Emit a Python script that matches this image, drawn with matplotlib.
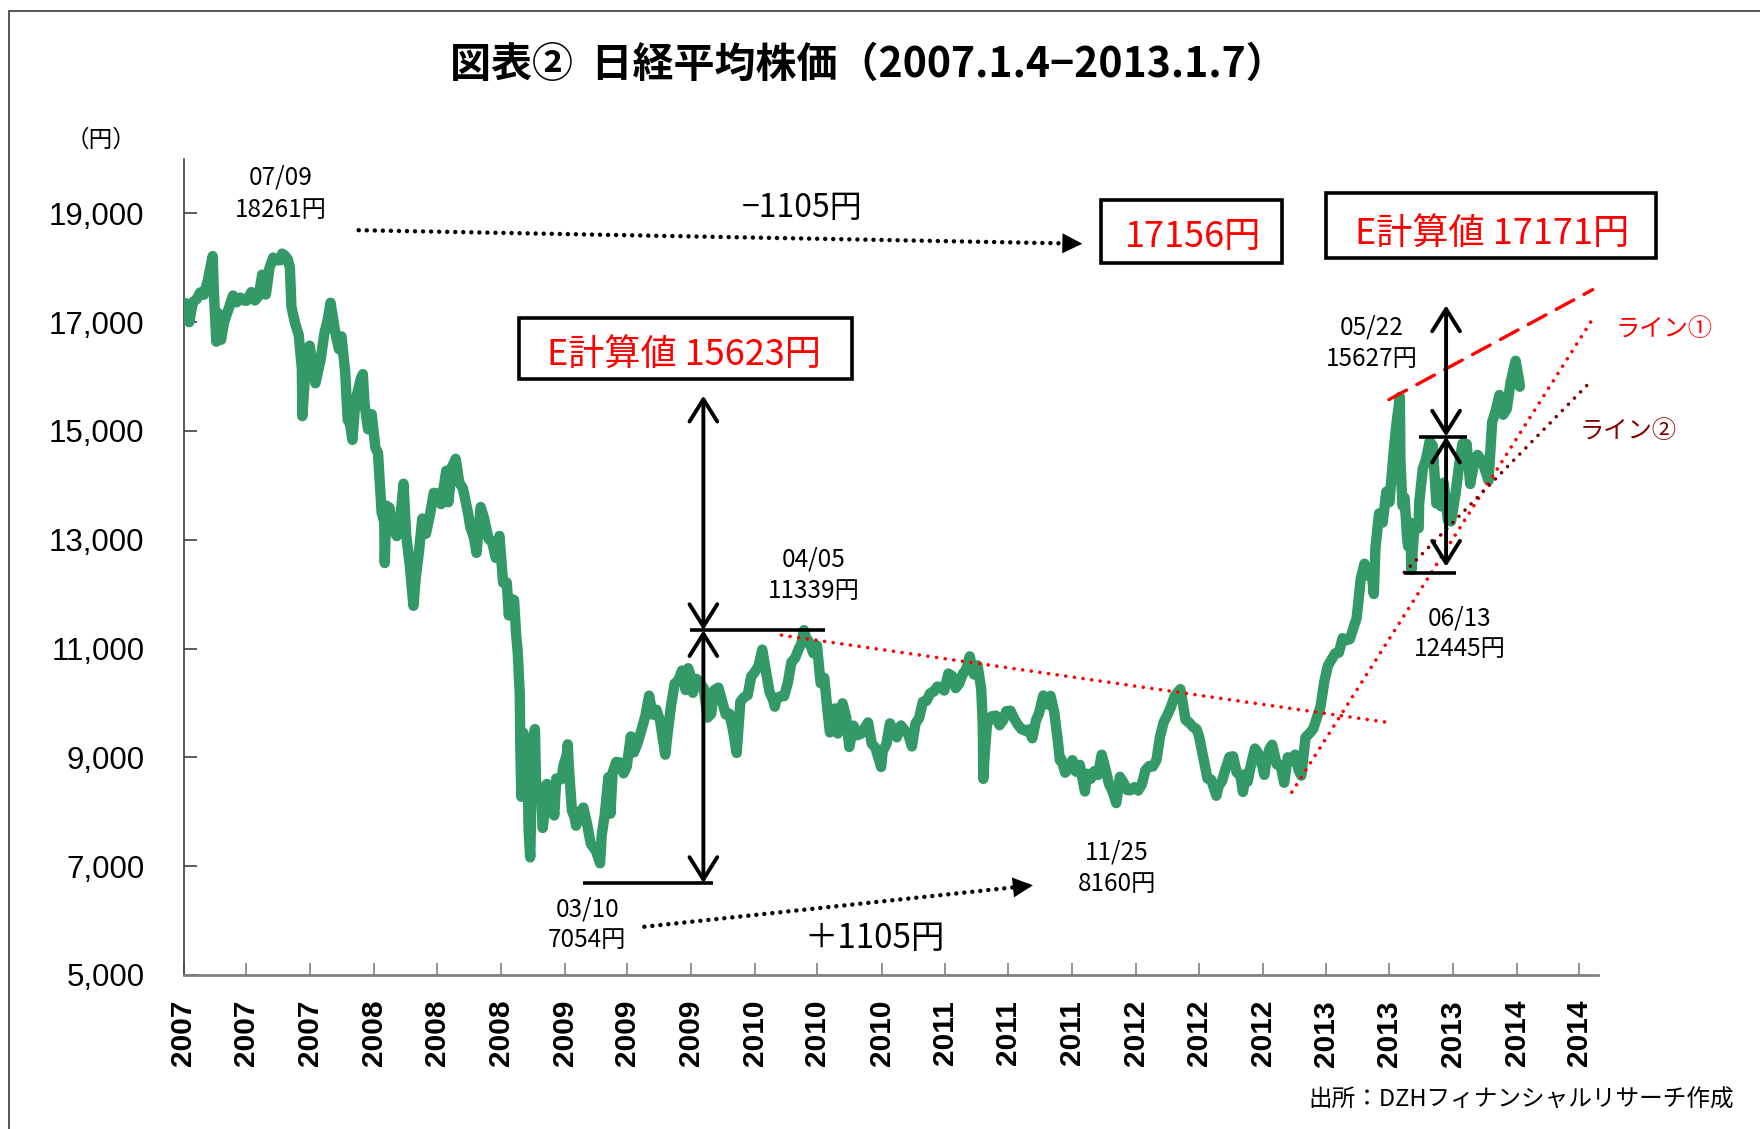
import matplotlib
matplotlib.use("Agg")
import matplotlib.pyplot as plt
import matplotlib.dates as mdates
from matplotlib.patches import Rectangle
import pandas as pd

plt.rcParams['font.family'] = ['Noto Sans CJK JP', 'DejaVu Sans']

# --- Nikkei 225 closes (MM-DD, yen) ---
days_2007 = ["01-04", "01-12", "01-19", "01-26",
             "02-02", "02-09", "02-16", "02-26", "02-28",
             "03-05", "03-09", "03-14", "03-20", "03-30",
             "04-06", "04-13", "04-20", "04-27",
             "05-02", "05-11", "05-18", "05-25",
             "06-01", "06-08", "06-15", "06-22", "06-29",
             "07-06", "07-09", "07-13", "07-20", "07-24", "07-27",
             "08-03", "08-10", "08-16", "08-17", "08-20", "08-24", "08-31",
             "09-07", "09-11", "09-21", "09-28",
             "10-05", "10-10", "10-19", "10-26", "10-31",
             "11-07", "11-12", "11-16", "11-21", "11-26", "11-30",
             "12-07", "12-11", "12-14", "12-21", "12-28"]
close_2007 = [17353, 17000, 17370, 17420,
              17547, 17504, 17742, 18215, 17604,
              16642, 17164, 16676, 17009, 17287,
              17490, 17364, 17452, 17400,
              17394, 17553, 17399, 17480,
              17875, 17509, 18001, 18188, 18138,
              18140, 18261, 18238, 18157, 18002, 17283,
              16979, 16765, 16149, 15273, 15733, 16249, 16569,
              16122, 15877, 16313, 16786,
              17065, 17358, 16814, 16505, 16738,
              16096, 15197, 15155, 14837, 15460, 15680,
              15956, 16044, 15514, 15031, 15308]

days_2008 = ["01-04", "01-09", "01-16", "01-21", "01-22", "01-25", "01-31",
             "02-06", "02-14", "02-20", "02-27",
             "03-03", "03-10", "03-17", "03-21", "03-28",
             "04-03", "04-10", "04-18", "04-25",
             "05-02", "05-09", "05-19", "05-23", "05-30",
             "06-06", "06-13", "06-20", "06-30",
             "07-04", "07-11", "07-16", "07-24", "07-31",
             "08-08", "08-15", "08-22", "08-29",
             "09-05", "09-12", "09-16", "09-19", "09-26", "09-30",
             "10-03", "10-07", "10-08", "10-10", "10-14", "10-16",
             "10-20", "10-22", "10-24", "10-27", "10-28", "10-30",
             "11-05", "11-07", "11-13", "11-17", "11-20", "11-26", "11-28",
             "12-03", "12-08", "12-12", "12-16", "12-19", "12-26", "12-30"]
close_2008 = [14691, 14600, 13504, 13325, 12573, 13629, 13592,
              13207, 13068, 13310, 14031,
              13093, 12532, 11787, 12260, 12820,
              13390, 13111, 13476, 13863,
              13849, 13656, 14269, 13690, 14339,
              14489, 14051, 13943, 13481,
              13237, 13039, 12760, 13603, 13376,
              13021, 12956, 12666, 13072,
              12212, 12214, 11609, 11920, 11893, 11259,
              10938, 10155, 9203, 8276, 9447, 8458,
              9005, 8674, 7649, 7162, 7621, 9029,
              9521, 8583, 8238, 8273, 7703, 8213, 8512,
              7997, 8329, 7932, 8612, 8588, 8600, 8860]

days_2009 = ["01-05", "01-07", "01-09", "01-15", "01-20", "01-23", "01-30",
             "02-06", "02-13", "02-20", "02-23",
             "03-02", "03-06", "03-10", "03-13", "03-19", "03-26", "03-30",
             "04-03", "04-10", "04-17", "04-24", "04-30",
             "05-08", "05-14", "05-21", "05-29",
             "06-05", "06-12", "06-19", "06-26",
             "07-03", "07-13", "07-17", "07-24", "07-31",
             "08-07", "08-14", "08-21", "08-26", "08-31",
             "09-04", "09-11", "09-18", "09-25",
             "10-02", "10-09", "10-15", "10-23", "10-30",
             "11-06", "11-13", "11-20", "11-27",
             "12-04", "12-11", "12-18", "12-25", "12-30"]
close_2009 = [9043, 9240, 8836, 8023, 7901, 7745, 7994,
              8077, 7779, 7416, 7376,
              7280, 7173, 7054, 7569, 7946, 8636, 7967,
              8719, 8916, 8907, 8707, 8828,
              9386, 9093, 9264, 9523,
              9768, 10135, 9786, 9877,
              9680, 9050, 9396, 9944, 10357,
              10412, 10597, 10238, 10639, 10492,
              10187, 10444, 10370, 10265,
              9731, 9799, 10238, 10282, 10034,
              9789, 9804, 9497, 9081,
              10022, 10107, 10142, 10494, 10546]

days_2010 = ["01-08", "01-15", "01-22", "01-29",
             "02-05", "02-08", "02-12", "02-19", "02-26",
             "03-05", "03-12", "03-19", "03-26", "03-31",
             "04-05", "04-09", "04-16", "04-23", "04-30",
             "05-07", "05-14", "05-21", "05-25", "05-28",
             "06-04", "06-09", "06-18", "06-25",
             "07-01", "07-09", "07-16", "07-23", "07-30",
             "08-06", "08-13", "08-20", "08-31",
             "09-03", "09-10", "09-17", "09-24", "09-30",
             "10-08", "10-15", "10-22", "10-29",
             "11-05", "11-12", "11-19", "11-26",
             "12-03", "12-10", "12-17", "12-24", "12-30"]
close_2010 = [10681, 10982, 10590, 10198,
              10057, 9932, 10092, 10123, 10126,
              10368, 10751, 10824, 10996, 11089,
              11339, 11204, 11102, 10914, 11057,
              10364, 10462, 9784, 9459, 9768,
              9901, 9439, 9995, 9737,
              9191, 9585, 9408, 9431, 9537,
              9642, 9253, 9179, 8824,
              9114, 9239, 9626, 9471, 9369,
              9588, 9500, 9426, 9202,
              9625, 9724, 10022, 10039,
              10178, 10211, 10303, 10279, 10229]

days_2011 = ["01-07", "01-14", "01-21", "01-28",
             "02-04", "02-10", "02-17", "02-25",
             "03-04", "03-11", "03-14", "03-15", "03-17", "03-22", "03-31",
             "04-08", "04-15", "04-22", "04-28",
             "05-06", "05-13", "05-20", "05-27",
             "06-03", "06-10", "06-17", "06-24", "06-30",
             "07-08", "07-15", "07-22", "07-29",
             "08-05", "08-09", "08-12", "08-19", "08-26",
             "09-02", "09-09", "09-16", "09-26", "09-30",
             "10-07", "10-14", "10-21", "10-28",
             "11-04", "11-11", "11-18", "11-25",
             "12-02", "12-09", "12-16", "12-22", "12-30"]
close_2011 = [10541, 10499, 10274, 10360,
              10543, 10605, 10857, 10526,
              10693, 10254, 9620, 8605, 8962, 9608, 9755,
              9768, 9591, 9682, 9849,
              9859, 9716, 9607, 9521,
              9492, 9514, 9351, 9678, 9816,
              10137, 9974, 10132, 9833,
              9299, 8944, 8963, 8719, 8797,
              8950, 8737, 8864, 8374, 8700,
              8605, 8748, 8678, 9050,
              8801, 8514, 8374, 8160,
              8643, 8536, 8401, 8395, 8455]

days_2012 = ["01-06", "01-13", "01-20", "01-27",
             "02-03", "02-10", "02-17", "02-24",
             "03-02", "03-09", "03-16", "03-27", "03-30",
             "04-06", "04-13", "04-20", "04-27",
             "05-02", "05-11", "05-18", "05-25",
             "06-04", "06-08", "06-15", "06-22", "06-29",
             "07-06", "07-13", "07-20", "07-25", "07-31",
             "08-03", "08-10", "08-17", "08-24", "08-31",
             "09-04", "09-07", "09-14", "09-19", "09-28",
             "10-05", "10-12", "10-19", "10-26",
             "11-02", "11-09", "11-14", "11-22", "11-30",
             "12-07", "12-14", "12-21", "12-28"]
close_2012 = [8390, 8500, 8766, 8841,
              8831, 8947, 9384, 9647,
              9777, 9929, 10129, 10255, 10083,
              9688, 9638, 9561, 9520,
              9380, 8953, 8611, 8593,
              8295, 8459, 8569, 8798, 9007,
              9020, 8724, 8670, 8365, 8695,
              8555, 8891, 9163, 9070, 8839,
              8679, 8871, 9159, 9232, 8870,
              8863, 8534, 9002, 8933,
              9051, 8757, 8665, 9366, 9446,
              9527, 9737, 9940, 10395]

days_2013 = ["01-04", "01-11", "01-18", "01-25",
             "02-01", "02-08", "02-15", "02-22", "02-28",
             "03-08", "03-15", "03-22", "03-29",
             "04-02", "04-05", "04-12", "04-19", "04-26",
             "05-02", "05-10", "05-15", "05-22", "05-23", "05-27", "05-31",
             "06-05", "06-07", "06-11", "06-13", "06-19", "06-27", "06-28",
             "07-05", "07-11", "07-18", "07-24", "07-31",
             "08-07", "08-09", "08-14", "08-22", "08-28",
             "09-06", "09-13", "09-19", "09-27",
             "10-04", "10-11", "10-18", "10-24", "10-31",
             "11-08", "11-15", "11-22", "11-29",
             "12-06", "12-13", "12-20", "12-27", "12-30"]
close_2013 = [10688, 10801, 10913, 10926,
              11191, 11153, 11173, 11385, 11559,
              12283, 12560, 12338, 12397,
              12003, 12833, 13485, 13316, 13884,
              13694, 14607, 15096, 15627, 14484, 13627, 13774,
              13014, 12877, 13317, 12445, 13245, 13213, 13677,
              14309, 14472, 14808, 14731, 13668,
              13824, 13615, 14050, 13366, 13338,
              13860, 14404, 14766, 14760,
              14025, 14404, 14561, 14486, 14327,
              14086, 15165, 15381, 15662,
              15299, 15403, 15870, 16178, 16291]

days_2014 = ["01-06", "01-07"]
close_2014 = [15908, 15814]

y_ticks = [5000, 7000, 9000, 11000, 13000, 15000, 17000, 19000]

# build the series
yearly = [(2007, days_2007, close_2007), (2008, days_2008, close_2008),
          (2009, days_2009, close_2009), (2010, days_2010, close_2010),
          (2011, days_2011, close_2011), (2012, days_2012, close_2012),
          (2013, days_2013, close_2013), (2014, days_2014, close_2014)]
dates = []
closes = []
for y, d, c in yearly:
    assert len(d) == len(c), y
    dates += ["%d-%s" % (y, s) for s in d]
    closes += c
dates = pd.to_datetime(dates)

x_ticks = pd.date_range("2007-01-01", "2014-05-01", freq="4MS")
x_labels = [str(t.year) for t in x_ticks]

T0 = mdates.date2num(pd.Timestamp("2007-01-01"))


def yr(v):
    # decimal year -> matplotlib date number
    return T0 + (v - 2007) * 365.25


fig = plt.figure(figsize=(17.6, 11.29), dpi=100)
ax = fig.add_axes([183.5 / 1760, 1 - 975 / 1129, (1598 - 183.5) / 1760, (975 - 159) / 1129])

ax.plot(dates, closes, color="#339966", lw=7.5, solid_joinstyle="round",
        solid_capstyle="round", zorder=3)

ax.set_xlim(pd.Timestamp("2007-01-01"), pd.Timestamp("2014-06-06"))
ax.set_ylim(5000, 20000)
ax.set_yticks(y_ticks, labels=["{:,}".format(v) for v in y_ticks],
              fontsize=22.5, fontfamily="Liberation Sans")
ax.set_xticks(x_ticks, labels=x_labels, fontsize=21.5, fontweight="bold",
              fontfamily="Liberation Sans", rotation=90)
ax.tick_params(axis="y", direction="in", length=9, width=1.2, color="#404040", pad=28)
ax.tick_params(axis="x", direction="in", length=9, width=1.2, color="#808080", pad=18)
for s in ["top", "right"]:
    ax.spines[s].set_visible(False)
ax.spines["left"].set_color("#404040")
ax.spines["left"].set_linewidth(1.2)
ax.spines["bottom"].set_color("#808080")
ax.spines["bottom"].set_linewidth(2)


def note(x, y, s, size=17.5, color="k", ha="center"):
    ax.text(yr(x), y, s, fontsize=size, color=color, ha=ha, va="center", clip_on=False, zorder=6)


def box(x0, x1, y0, y1):
    ax.add_patch(Rectangle((yr(x0), y0), yr(x1) - yr(x0), y1 - y0, fill=False,
                           ec="k", lw=2.6, clip_on=False, zorder=5))


def hline(x0, x1, y):
    ax.plot([yr(x0), yr(x1)], [y, y], color="k", lw=2.6, solid_capstyle="butt", zorder=5)


def double_arrow(x, y0, y1):
    ax.annotate("", xy=(yr(x), y1), xytext=(yr(x), y0),
                arrowprops=dict(arrowstyle="<->,head_length=0.8,head_width=0.5", color="k",
                                lw=2.8, mutation_scale=20, shrinkA=0, shrinkB=0), zorder=5)


def dotted_arrow(x0, y0, x1, y1):
    ax.plot([yr(x0), yr(x1)], [y0, y1], color="k", lw=3.2, ls=(0, (0.01, 1.8)),
            dash_capstyle="round", clip_on=False, zorder=4)
    ax.annotate("", xy=(yr(x1), y1), xytext=(yr(x0), y0),
                arrowprops=dict(arrowstyle="-|>,head_length=0.9,head_width=0.45", color="k",
                                lw=0, mutation_scale=16, shrinkA=0, shrinkB=0))


def trend(x0, y0, x1, y1, color, ls, lw=2.6):
    ax.plot([yr(x0), yr(x1)], [y0, y1], color=color, lw=lw, ls=ls,
            dash_capstyle="round", clip_on=False, zorder=4)


# peak / trough labels
note(2007.51, 19660, "07/09")
note(2007.51, 19062, "18261円")
note(2010.31, 12629, "04/05")
note(2010.31, 12052, "11339円")
note(2009.12, 6196, "03/10")
note(2009.12, 5639, "7054円")
note(2011.90, 7247, "11/25")
note(2011.90, 6670, "8160円")
note(2013.24, 16897, "05/22")
note(2013.24, 16322, "15627円")
note(2013.70, 11556, "06/13")
note(2013.70, 11000, "12445円")

# +/- 1105 arrows
dotted_arrow(2007.92, 18691, 2011.72, 18443)
note(2010.25, 19103, "−1105円", size=23)
dotted_arrow(2009.42, 5887, 2011.46, 6649)
note(2010.63, 5680, "＋1105円", size=24)

# boxes
box(2011.82, 2012.77, 18093, 19247)
note(2012.30, 18570, "17156円", size=26, color="#FF0000")
box(2013.00, 2014.73, 18175, 19371)
note(2013.87, 18620, "E計算値 17171円", size=26, color="#FF0000")
box(2008.76, 2010.51, 15948, 17082)
note(2009.63, 16390, "E計算値 15623円", size=26, color="#FF0000")

# measuring arrows, left
double_arrow(2009.73, 11339, 15650)
double_arrow(2009.73, 11339, 6690)
hline(2009.66, 2010.37, 11339)
hline(2009.10, 2009.78, 6690)

# measuring arrows, right
double_arrow(2013.63, 14897, 17309)
double_arrow(2013.63, 14897, 12505)
hline(2013.49, 2013.74, 14897)
hline(2013.41, 2013.68, 12381)

# trend lines
trend(2010.14, 11247, 2013.33, 9640, "#FF0000", (0, (0.01, 2.4)))
trend(2012.82, 8361, 2014.40, 17062, "#FF0000", (0, (0.01, 2.4)))
trend(2013.41, 12402, 2014.40, 15948, "#800000", (0, (0.01, 2.4)))
trend(2013.33, 15577, 2014.40, 17598, "#FF0000", (0, (6, 3.5)), lw=2.4)
note(2014.52, 16876, "ライン①", size=17.5, color="#FF0000", ha="left")
note(2014.33, 15000, "ライン②", size=17.5, color="#800000", ha="left")

# figure texts
fig.text(868 / 1760, 1 - 65 / 1129, "図表②  日経平均株価（2007.1.4−2013.1.7）",
         fontsize=29.5, fontweight="bold", ha="center", va="center")
fig.text(101 / 1760, 1 - 140 / 1129, "（円）", fontsize=17, ha="center", va="center")
fig.text(1734 / 1760, 1 - 1100 / 1129, "出所：DZHフィナンシャルリサーチ作成",
         fontsize=17, ha="right", va="center")

# outer frame
fig.patches.append(Rectangle((9 / 1760, -0.5), 2, 0.5 + 1 - 11 / 1129, transform=fig.transFigure,
                             fill=False, ec="#3a3a3a", lw=1.2))

fig.savefig("out.png", dpi=100)
